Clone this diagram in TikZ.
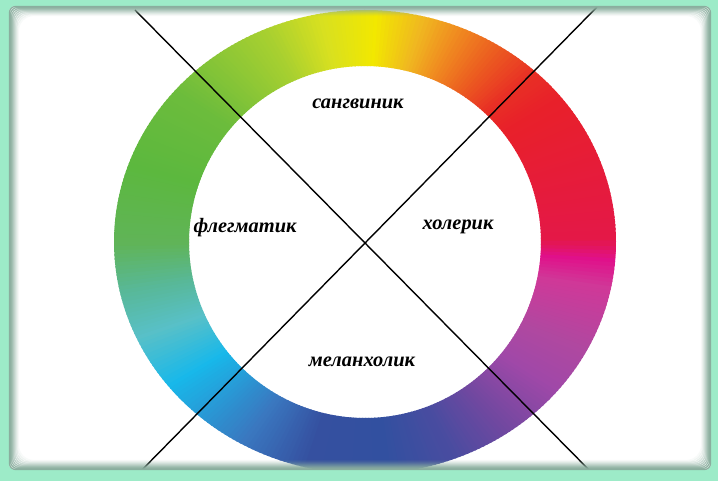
\documentclass[tikz,border=0pt]{standalone}
\usepackage{fontspec}
\setmainfont{Liberation Serif}
\usetikzlibrary{calc}

% ramka
\definecolor{mint}{HTML}{9DEBC8}
\definecolor{rim}{HTML}{8AAE9E}
% cveta kolca
\definecolor{w0}{HTML}{E41848}
\definecolor{w1}{HTML}{E8202A}
\definecolor{w2}{HTML}{E83025}
\definecolor{w3}{HTML}{EC6020}
\definecolor{w4}{HTML}{F08A20}
\definecolor{w5}{HTML}{F0B820}
\definecolor{w6}{HTML}{F2E800}
\definecolor{w7}{HTML}{D8E020}
\definecolor{w8}{HTML}{A8D030}
\definecolor{w9}{HTML}{6CBC3C}
\definecolor{w10}{HTML}{5CB83E}
\definecolor{w11}{HTML}{60B458}
\definecolor{w12}{HTML}{58B898}
\definecolor{w13}{HTML}{58C0C8}
\definecolor{w14}{HTML}{18B8EA}
\definecolor{w15}{HTML}{3A78C0}
\definecolor{w16}{HTML}{3550A0}
\definecolor{w17}{HTML}{3250A0}
\definecolor{w18}{HTML}{4A4CA0}
\definecolor{w19}{HTML}{7048A0}
\definecolor{w20}{HTML}{A048A8}
\definecolor{w21}{HTML}{B048A0}
\definecolor{w22}{HTML}{D03898}
\definecolor{w23}{HTML}{E0108A}

\begin{document}
\begin{tikzpicture}[
				x=1bp, y=1bp,
				temper/.style={font=\fontsize{20.5}{22}\selectfont\bfseries\itshape, text=black},
				cross/.style={draw=black, line width=1.4bp}
				]
				\useasboundingbox (0,0) rectangle (718,481);
				\fill[white] (0,0) rectangle (718,481);
				
				% Kolco
				\begin{scope}[shift={(365,239)}]
				\foreach \a/\b/\ca/\cb in {0/38/w0/w1, 38/47/w1/w2, 47/58/w2/w3, 58/67/w3/w4,
					67/76/w4/w5, 76/87/w5/w6, 87/100/w6/w7, 100/113/w7/w8, 113/139/w8/w9,
					139/160/w9/w10, 160/180/w10/w11, 180/192/w11/w12, 192/204/w12/w13,
					204/218/w13/w14, 218/240/w14/w15, 240/256/w15/w16, 256/275/w16/w17,
					275/291/w17/w18, 291/304/w18/w19, 304/320/w19/w20, 320/332/w20/w21,
					332/348/w21/w22, 348/355/w22/w23, 355/360/w23/w0}{
					\pgfmathtruncatemacro{\e}{\b-1}
					\foreach \x in {\a,...,\e}{
						\pgfmathsetmacro{\p}{100*(\b-\x)/(\b-\a)}
						\fill[\ca!\p!\cb] (\x:251 and 232) -- ({\x+1.4}:251 and 232)
							-- ({\x+1.4}:176) -- (\x:176) -- cycle;
					}
				}
				\end{scope}
				
				% Krest
				\coordinate (tl) at (135,471);
				\coordinate (br) at (597,3);
				\coordinate (tr) at (597,474);
				\coordinate (bl) at (137,6);
				\draw[cross] (tl) -- (br);
				\draw[cross] (tr) -- (bl);
				
				% Temperamenty
				\node[temper] (sang) at (358,377) {сангвиник};
				\node[temper] (fleg) at (245,253) {флегматик};
				\node[temper] (chol) at (458,254) {холерик};
				\node[temper] (mel)  at (362,119) {меланхолик};
				
				% Ramka
				\fill[mint, even odd rule] (0,0) rectangle (718,481)
					[rounded corners=6] (9,11) rectangle (711,475);
				\foreach \i/\o in {0/1, 1/0.95, 2/0.85, 3/0.72, 4/0.58, 5/0.45, 6/0.33, 7/0.22, 8/0.13, 9/0.06}{
					\draw[rim, line width=1.3, opacity=\o, rounded corners=6+\i]
						(9.5+\i,11.5+\i) rectangle (710.5-\i,474.5-\i);
				}
				
			\end{tikzpicture}
\end{document}
